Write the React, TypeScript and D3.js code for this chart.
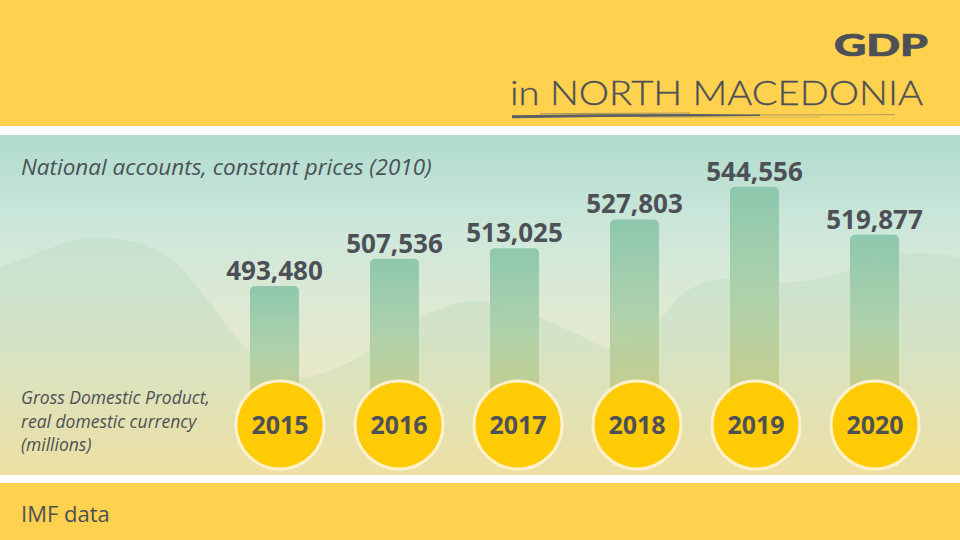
import React from "react";
import * as d3 from "d3";

const years = ["2015", "2016", "2017", "2018", "2019", "2020"];
const gdpValues = [493480, 507536, 513025, 527803, 544556, 519877];

const title = "GDP";
const subtitle = "in NORTH MACEDONIA";
const note = "National accounts, constant prices (2010)";
const measureLines = ["Gross Domestic Product,", "real domestic currency", "(millions)"];
const source = "IMF data";

// decorative background hill (not data)
const hillPoints: [number, number][] = [
  [-10, 272], [40, 252], [85, 238], [130, 241], [170, 258], [210, 303],
  [250, 352], [295, 377], [350, 362], [410, 322], [470, 301], [520, 310],
  [575, 333], [615, 349], [650, 330], [685, 292], [720, 279], [780, 283],
  [830, 276], [880, 259], [920, 253], [970, 259],
];

const W = 960;
const H = 540;
const INK = "#4D5157";
const YELLOW = "#FED14F";

const App: React.FC = () => {
  React.useEffect(() => {
    document.body.style.margin = "0";
  }, []);

  const xBars = d3.scalePoint<string>().domain(years).range([274.5, 874.5]);
  const xDots = d3.scalePoint<string>().domain(years).range([280, 875]);
  const yScale = d3.scaleLinear().domain([422000, 545000]).range([425, 186]);
  const fmt = d3.format(",");

  const barW = 49;
  const baseY = yScale(422000);

  const hillPath =
    d3.line().curve(d3.curveCatmullRom.alpha(0.5))(hillPoints) +
    ` L970,480 L-10,480 Z`;

  return (
    <svg
      width={W}
      height={H}
      viewBox={`0 0 ${W} ${H}`}
      style={{ display: "block", position: "absolute", left: 0, top: 0 }}
    >
      <defs>
        <linearGradient id="panelGrad" gradientUnits="userSpaceOnUse" x1="0" y1="135" x2="0" y2="475">
          <stop offset="0" stopColor="#B0DCCF" />
          <stop offset="0.3" stopColor="#CFE8DB" />
          <stop offset="0.5" stopColor="#DDE9D3" />
          <stop offset="0.72" stopColor="#E8E8C8" />
          <stop offset="1" stopColor="#EDE1A6" />
        </linearGradient>
        <linearGradient id="hillGrad" gradientUnits="userSpaceOnUse" x1="0" y1="238" x2="0" y2="475">
          <stop offset="0" stopColor="#C6E2D0" />
          <stop offset="0.4" stopColor="#D2E3C8" />
          <stop offset="1" stopColor="#EDE0A3" />
        </linearGradient>
        <linearGradient id="barGrad" x1="0" y1="0" x2="0" y2="1">
          <stop offset="0" stopColor="#88C5AA" />
          <stop offset="0.45" stopColor="#AACFA9" />
          <stop offset="1" stopColor="#CDCB7E" />
        </linearGradient>
      </defs>

      {/* bands */}
      <rect x={0} y={0} width={W} height={126} fill={YELLOW} />
      <rect x={0} y={126} width={W} height={9} fill="#FFFFFF" />
      <rect x={0} y={135} width={W} height={340} fill="url(#panelGrad)" />
      <path d={hillPath} fill="url(#hillGrad)" opacity={0.95} />
      <rect x={0} y={475} width={W} height={8} fill="#FFFFFF" />
      <rect x={0} y={483} width={W} height={57} fill={YELLOW} />

      {/* title */}
      <text
        x={834}
        y={56}
        fontFamily="Lato"
        fontWeight={900}
        fontSize={30}
        fill={INK}
        stroke={INK}
        strokeWidth={0.7}
        textLength={94}
        lengthAdjust="spacingAndGlyphs"
      >
        {title}
      </text>
      <text
        x={510}
        y={105}
        fontFamily="Lato"
        fontWeight={300}
        fontSize={33.5}
        fill={INK}
        stroke={INK}
        strokeWidth={0.3}
        textLength={413}
        lengthAdjust="spacingAndGlyphs"
      >
        {subtitle}
      </text>
      {/* brush underline */}
      <path
        d="M512,115.2 L600,114.2 L700,114 L760,114.4 L760,116 L700,116.4 L600,117 L512,118.2 Z"
        fill="#5B5E62"
      />
      <path d="M540,113.2 L690,112.6 L690,113.6 L540,114.2 Z" fill="#5B5E62" opacity={0.55} />
      <path d="M750,114.2 L895,114 L895,115.2 L750,115.6 Z" fill="#6B6E71" opacity={0.45} />
      <path d="M640,117.2 L820,116.6 L820,117.4 L640,118 Z" fill="#6B6E71" opacity={0.3} />

      {/* notes */}
      <text x={21} y={175} fontFamily="Open Sans" fontStyle="italic" fontSize={22.5} fill={INK}>
        {note}
      </text>
      {measureLines.map((t, i) => (
        <text
          key={t}
          x={21}
          y={404 + i * 23.5}
          fontFamily="Open Sans"
          fontStyle="italic"
          fontSize={17.5}
          fill={INK}
        >
          {t}
        </text>
      ))}
      <text x={21} y={522} fontFamily="Open Sans" fontSize={22} fill={INK}>
        {source}
      </text>

      {/* bars */}
      {years.map((yr, i) => {
        const y = yScale(gdpValues[i]);
        const cx = xBars(yr)!;
        return (
          <g key={yr}>
            <rect
              x={cx - barW / 2}
              y={y}
              width={barW}
              height={baseY - y}
              rx={5}
              fill="url(#barGrad)"
              opacity={0.92}
            />
            <text
              x={cx}
              y={y - 6}
              textAnchor="middle"
              fontFamily="Open Sans"
              fontWeight={700}
              fontSize={26}
              fill={INK}
            >
              {fmt(gdpValues[i])}
            </text>
          </g>
        );
      })}

      {/* year discs */}
      {years.map((yr) => (
        <g key={`c${yr}`} transform={`translate(${xDots(yr)},425)`}>
          <circle r={44} fill="#FFCB05" stroke="#FFF1CB" strokeWidth={3} />
          <text
            y={9}
            textAnchor="middle"
            fontFamily="Open Sans"
            fontWeight={700}
            fontSize={25}
            fill={INK}
          >
            {yr}
          </text>
        </g>
      ))}
    </svg>
  );
};

export default App;
